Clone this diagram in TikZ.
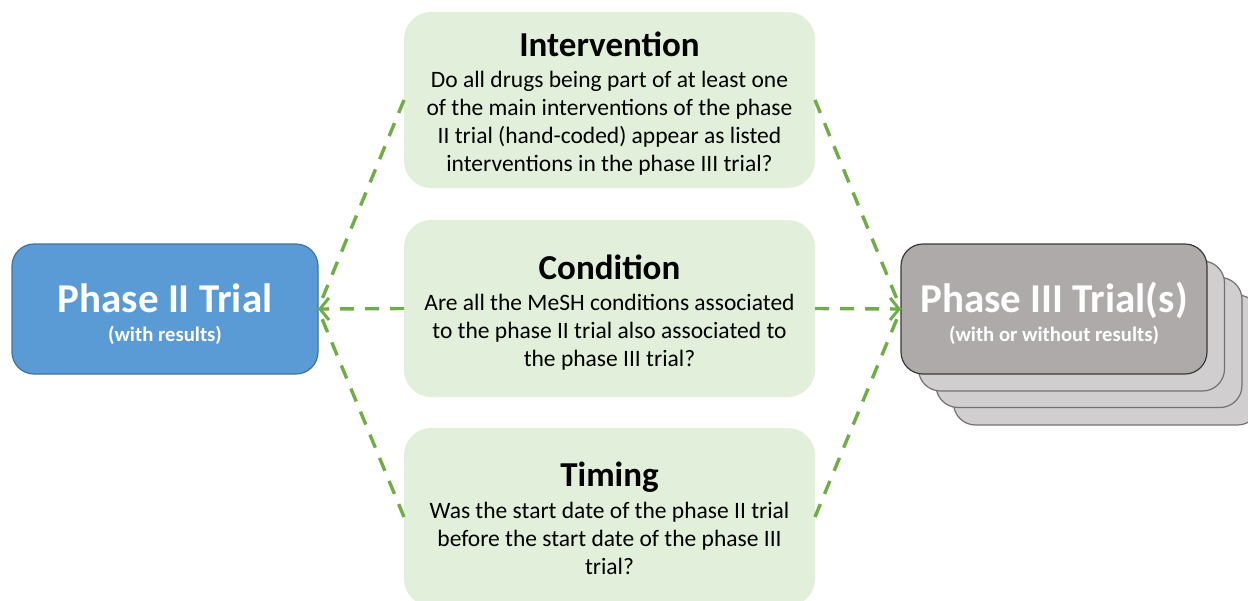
\documentclass[tikz,border=0pt]{standalone}
\usepackage{fontspec}
\setmainfont{Carlito}
\usetikzlibrary{arrows.meta}
\definecolor{pblue}{HTML}{5B9BD5}
\definecolor{pblueb}{HTML}{41719C}
\definecolor{lgreen}{HTML}{E2EFDA}
\definecolor{dgreen}{HTML}{70AD47}
\definecolor{fgrey}{HTML}{AEAAAA}
\definecolor{fgreyb}{HTML}{3B3838}
\definecolor{bgrey}{HTML}{D0CECE}
\definecolor{bgreyb}{HTML}{767171}
\tikzset{
  qbox/.style={fill=lgreen, draw=none, rounded corners=27pt, minimum width=411pt, inner sep=0pt, outer sep=0pt},
  pbox/.style={fill=pblue, draw=pblueb, line width=1.2pt, rounded corners=22pt, minimum width=306pt, minimum height=130pt, inner sep=0pt, outer sep=0pt},
  fbox/.style={fill=fgrey, draw=fgreyb, line width=1.2pt, rounded corners=22pt, minimum width=306pt, minimum height=130pt, inner sep=0pt, outer sep=0pt},
  sbox/.style={fill=bgrey, draw=bgreyb, line width=1.2pt, rounded corners=22pt, minimum width=306pt, minimum height=130pt, inner sep=0pt, outer sep=0pt},
  qtitle/.style={font=\fontsize{35}{40}\selectfont\bfseries, anchor=base, inner sep=0pt},
  qbody/.style={font=\fontsize{23.5}{28}\selectfont, anchor=base, inner sep=0pt, align=center},
  ptitle/.style={font=\fontsize{41}{48}\selectfont\bfseries, text=white, anchor=base, inner sep=0pt},
  psub/.style={font=\fontsize{20.7}{24}\selectfont\bfseries, text=white, anchor=base, inner sep=0pt},
  link/.style={draw=dgreen, line width=3.4pt, dash pattern=on 14pt off 11pt},
  arr/.style={-{Straight Barb[length=9pt,width=22pt,line width=3pt]}},
}
\begin{document}
\begin{tikzpicture}[x=1pt,y=-1pt]
\useasboundingbox (0,0) rectangle (1248,600);
\clip (0,0) rectangle (1248,600);
% question boxes
\node[qbox, minimum height=176pt] (int) at (609.5,100) {};
\node[qbox, minimum height=177pt] (con) at (609.5,308.5) {};
\node[qbox, minimum height=178pt] (tim) at (609.5,517) {};
\node[qtitle] (intt) at (609.5,56) {Intervention};
\node[qbody] (intb) at (609.5,171) {Do all drugs being part of at least one\\of the main interventions of the phase\\II trial (hand-coded) appear as listed\\interventions in the phase III trial?};
\node[qtitle] (cont) at (609.5,279) {Condition};
\node[qbody] (conb) at (609.5,366) {Are all the MeSH conditions associated\\to the phase II trial also associated to\\the phase III trial?};
\node[qtitle] (timt) at (609.5,486) {Timing};
\node[qbody] (timb) at (609.5,574) {Was the start date of the phase II trial\\before the start date of the phase III\\trial?};
% phase II
\node[pbox] (p2) at (165,309) {};
\node[ptitle] (p2t) at (165,312) {Phase II Trial};
\node[psub] (p2s) at (165,341) {(with results)};
% phase III stack
\node[sbox] (p3d) at (1106.5,360) {};
\node[sbox] (p3c) at (1089,342.5) {};
\node[sbox] (p3b) at (1071.5,326) {};
\node[fbox] (p3) at (1054,309) {};
\node[ptitle] (p3t) at (1054,312) {Phase III Trial(s)};
\node[psub] (p3s) at (1054,341) {(with or without results)};
% links
\draw[link] (int.west) -- (p2.east);
\draw[link] (tim.west) -- (p2.east);
\draw[link, arr] (con.west) -- (p2.east);
\draw[link] (int.east) -- (p3.west);
\draw[link] (tim.east) -- (p3.west);
\draw[link, arr] (con.east) -- (p3.west);
\end{tikzpicture}
\end{document}
